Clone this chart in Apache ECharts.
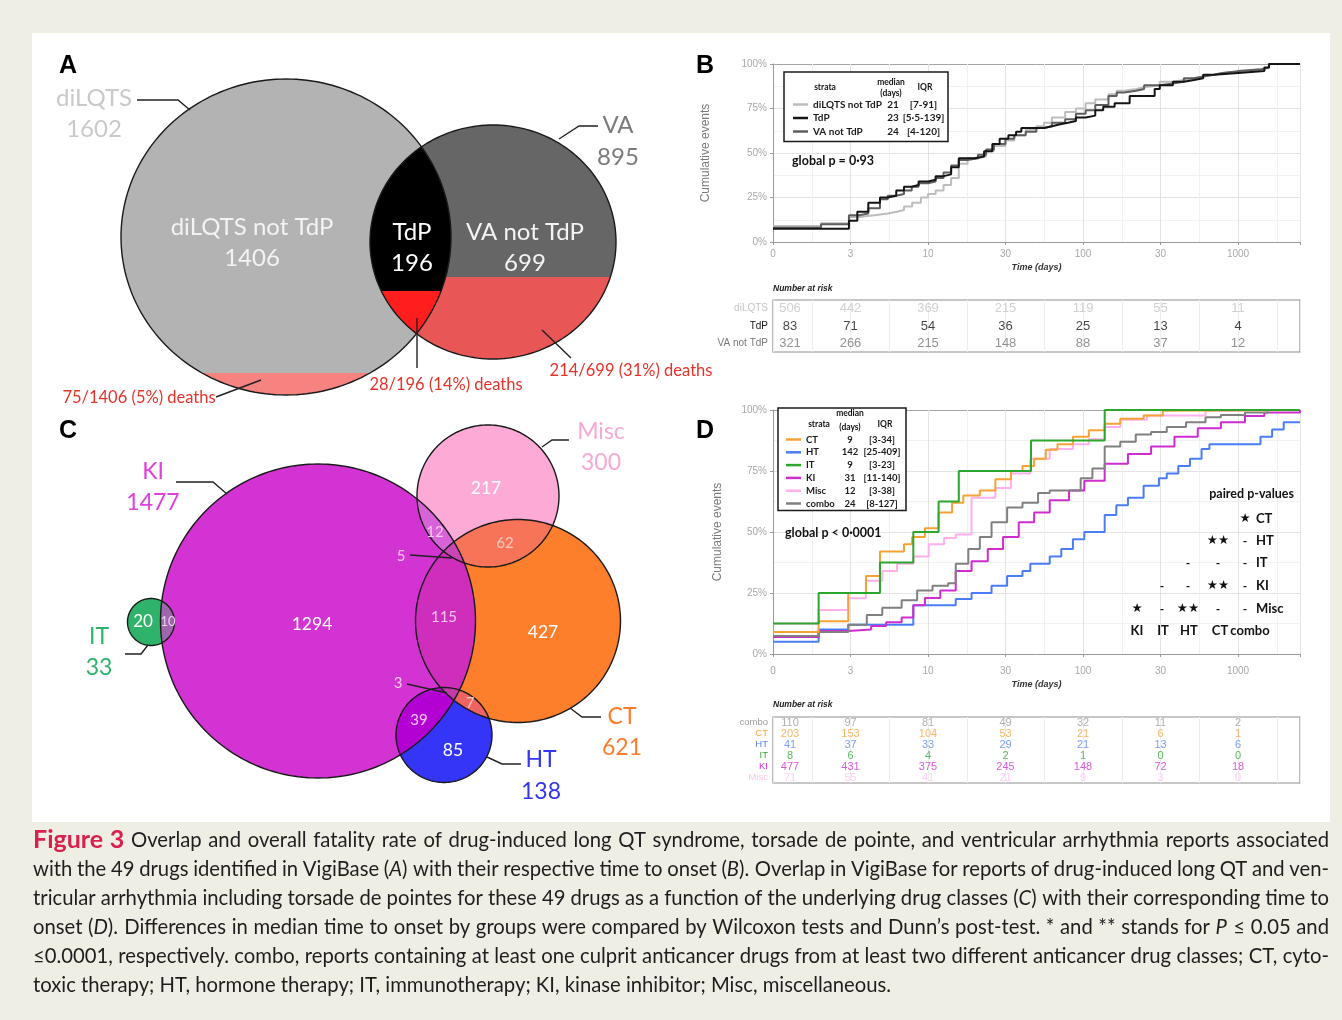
<!DOCTYPE html>
<html><head><meta charset="utf-8">
<script src="https://cdn.jsdelivr.net/npm/echarts@6.0.0/dist/echarts.min.js"></script>
<style>
html,body{margin:0;padding:0;background:#efeee5;}
#panel{position:absolute;left:32px;top:33px;width:1298px;height:789px;background:#fff;}
#chart{position:absolute;left:0;top:0;width:1342px;height:1020px;}
</style></head>
<body><div id="panel"></div><div id="chart"></div>
<script>
// ================= DATA =================
// Panel A (Venn)
const setNamesA = ['diLQTS', 'VA'];
const setTotalsA = [1602, 895];
const regionNamesA = ['diLQTS not TdP', 'TdP', 'VA not TdP'];
const regionCountsA = [1406, 196, 699];
const regionDeathsA = [75, 28, 214];

// Panel C (Venn)
const setNamesC = ['KI', 'Misc', 'IT', 'CT', 'HT'];
const setTotalsC = [1477, 300, 33, 621, 138];
const regionSetsC = [['KI'], ['Misc'], ['IT'], ['CT'], ['HT'], ['KI','IT'], ['KI','Misc'], ['Misc','CT'], ['KI','Misc','CT'], ['KI','CT'], ['KI','HT'], ['CT','HT'], ['KI','CT','HT']];
const regionCountsC = [1294, 217, 20, 427, 85, 10, 12, 62, 5, 115, 39, 7, 3];

// Time axis tick labels (as printed)
const timeTickLabels = ['0', '3', '10', '30', '100', '30', '1000'];

// Panel B
const strataB = ['diLQTS not TdP', 'TdP', 'VA not TdP'];
const medianB = [21, 23, 24];
const iqrB = ['[7-91]', '[5·5-139]', '[4-120]'];
const kmB_diLQTS = [[1,9],[2.04,10.5],[3.09,14],[3.6,15],[4.5,16],[5.5,17],[6.3,18],[7,20],[7.9,22],[9,25],[10,27],[11.2,29],[12.6,32],[14.1,36],[15.8,44],[18,47],[21,48],[23.7,51],[26.6,54],[31.6,57],[36,60],[42.7,63],[50,65],[56,67],[63,70],[76.7,73],[90,75],[104,78],[120,80],[146,83],[165,85],[184,86],[220,87],[248,88],[313,90],[380,91],[447,92],[520,93],[596,94],[700,95],[794,96],[1100,97],[1413,98],[1585,100],[2512,100]];
const kmB_TdP = [[1,7.5],[3.09,12],[3.5,17],[4.12,22],[4.9,25],[5.5,26],[6.24,29],[7,31],[7.85,32],[8.7,34],[10,35],[11.2,37],[12.6,38],[14.1,42],[15.8,47],[20,48],[23,51],[26,55],[29,58],[33,60],[37,62],[40,64],[56,65],[63,66],[70,67],[80,68],[90,70],[104,71],[120,74],[135,76],[160,78],[200,82],[290,86],[313,88],[380,90],[447,91],[520,92],[596,94],[700,95],[1000,96],[1480,98],[1585,100],[2512,100]];
const kmB_VA = [[1,8],[2.04,10],[3.09,15],[3.6,16],[4.12,19],[4.9,24],[5.5,26],[6.24,27],[7,29],[7.85,31],[8.7,33],[10,34],[11.2,36],[12.6,39],[14.1,43],[15.8,46],[18,47],[21,49],[23.7,52],[26.6,55],[31.6,58],[36,60],[42.7,62],[50,64],[56,65],[63,67],[76.7,69],[90,72],[104,74],[120,77],[146,82],[165,84],[184,85],[220,86],[248,88],[313,89],[380,90],[447,92],[520,93],[596,94],[700,95],[794,96],[1000,97],[1413,98],[1585,100],[2512,100]];
const riskRowsB = ['diLQTS', 'TdP', 'VA not TdP'];
const riskB_diLQTS = [506, 442, 369, 215, 119, 55, 11];
const riskB_TdP = [83, 71, 54, 36, 25, 13, 4];
const riskB_VA = [321, 266, 215, 148, 88, 37, 12];

// Panel D
const strataD = ['CT', 'HT', 'IT', 'KI', 'Misc', 'combo'];
const medianD = [9, 142, 9, 31, 12, 24];
const iqrD = ['[3-34]', '[25-409]', '[3-23]', '[11-140]', '[3-38]', '[8-127]'];
const kmD_CT = [[1,9],[1.97,13.4],[3.06,25],[3.98,32],[4.9,42],[7,45],[7.9,48],[9.55,51.5],[11.7,58],[14.3,62],[16.9,65],[21.6,67],[27.2,71.6],[34.3,75],[40.7,77],[48.4,80],[57.5,83.7],[68.4,86],[86.1,89],[109,91.7],[138,94.4],[174,96.4],[246,97.7],[327,99.7],[347,100],[2512,100]];
const kmD_HT = [[1,5],[1.97,10],[3.06,12],[8.04,20],[15.1,22.5],[19.1,25],[25.7,28],[32.4,32],[40.7,34],[45.7,37],[61,40],[72.4,43],[86.1,47],[102,50],[138,57],[164,61],[195,64],[246,69],[309,72],[347,74],[412,77],[490,80],[582,84],[654,86],[1245,86],[1396,89],[1660,92],[1972,95],[2512,95]];
const kmD_IT = [[1,12.5],[1.97,25],[4.9,37.5],[8.04,50],[11.7,62.5],[15.8,75],[46.2,87.5],[138,100],[2512,100]];
const kmD_KI = [[1,7],[1.97,9.4],[3.06,10],[4.3,11.5],[5.37,13],[6.76,15],[8.04,20],[9.55,23],[12,26],[15.1,34],[19.1,38],[24.3,43],[30.5,48],[38.5,54],[48.4,58],[61,63],[81.3,67],[102,71],[138,78],[195,82],[275,85],[389,89],[550,92.5],[776,95],[1109,97.5],[1479,99],[2512,100]];
const kmD_Misc = [[1,12.5],[1.97,18],[3.06,22.8],[3.98,30],[5.07,34],[6.31,37],[8.04,40],[10.1,45],[12.7,47.5],[15.1,49],[19.1,64],[27.2,68],[34.3,74],[45.7,80],[61,84],[86.1,86],[109,88],[138,93],[174,96],[259,97.7],[617,99.7],[900,100],[2512,100]];
const kmD_combo = [[1,7.4],[1.97,9],[3.06,12],[4.03,16],[5.07,19],[6.76,22],[8.51,26],[10.7,28],[13.5,29],[15.1,37],[18.2,43],[21.6,48],[25.7,54],[32.4,60],[40.7,62],[51.3,66],[61,67],[96.6,72],[115,76],[138,85],[174,87],[219,90],[275,91],[347,93],[462,95],[617,97],[776,98],[1109,99],[1567,100],[2512,100]];
const riskRowsD = ['combo', 'CT', 'HT', 'IT', 'KI', 'Misc'];
const riskD_combo = [110, 97, 81, 49, 32, 11, 2];
const riskD_CT = [203, 153, 104, 53, 21, 6, 1];
const riskD_HT = [41, 37, 33, 29, 21, 13, 6];
const riskD_IT = [8, 6, 4, 2, 1, 0, 0];
const riskD_KI = [477, 431, 375, 245, 148, 72, 18];
const riskD_Misc = [71, 55, 41, 21, 9, 3, 0];

// paired p-values
const pairRows = ['CT', 'HT', 'IT', 'KI', 'Misc'];
const pairCols = ['KI', 'IT', 'HT', 'CT', 'combo'];
const pairSig = [
  ['', '', '', '', '★'],
  ['', '', '', '★★', '-'],
  ['', '', '-', '-', '-'],
  ['', '-', '-', '★★', '-'],
  ['★', '-', '★★', '-', '-']
];
const globalPB = 'global p = 0·93';
const globalPD = 'global p < 0·0001';

const captionLines = [
  '#Figure #3 Overlap and overall fatality rate of drug-induced long QT syndrome, torsade de pointe, and ventricular arrhythmia reports associated',
  'with the 49 drugs identified in VigiBase (_A_) with their respective time to onset (_B_). Overlap in VigiBase for reports of drug-induced long QT and ven-',
  'tricular arrhythmia including torsade de pointes for these 49 drugs as a function of the underlying drug classes (_C_) with their corresponding time to',
  'onset (_D_). Differences in median time to onset by groups were compared by Wilcoxon tests and Dunn’s post-test. * and ** stands for _P_ ≤ 0.05 and',
  '≤0.0001, respectively. combo, reports containing at least one culprit anticancer drugs from at least two different anticancer drug classes; CT, cyto-',
  'toxic therapy; HT, hormone therapy; IT, immunotherapy; KI, kinase inhibitor; Misc, miscellaneous.'
];

// ================= LAYOUT / STYLE =================
const geomA = { diLQTS: [286, 237, 165, 158], VA: [493, 242, 123, 117] };
const geomC = { KI: [318, 621, 157.5, 157], Misc: [488, 496, 71, 71], IT: [151, 622, 23.5, 23.5], CT: [518, 621, 102.5, 101.5], HT: [444, 735, 48, 47.5] };
const fillC = {
  'KI': '#d433d4', 'Misc': '#fdaad6', 'IT': '#2fb36a', 'CT': '#fd7f2b', 'HT': '#3535f8',
  'KI&IT': '#9e66ad', 'KI&Misc': '#d862d8', 'Misc&CT': '#f77459', 'KI&Misc&CT': '#cc45b4',
  'KI&CT': '#cf2dbb', 'KI&HT': '#b300d3', 'CT&HT': '#ef6360', 'KI&CT&HT': '#c23aa8'
};
const drawOrderC = ['CT', 'Misc', 'KI', 'HT', 'IT', 'Misc&CT', 'KI&Misc', 'KI&CT', 'KI&Misc&CT', 'KI&HT', 'CT&HT', 'KI&CT&HT', 'KI&IT'];

const vennLayers = [
  { g: geomA, sets: ['diLQTS'], fill: '#b3b3b3' },
  { g: geomA, sets: ['VA'], fill: '#666666' },
  { g: geomA, sets: ['diLQTS'], cut: 373, fill: '#f6837f' },
  { g: geomA, sets: ['VA'], cut: 277, fill: '#e95656' },
  { g: geomA, sets: ['diLQTS', 'VA'], fill: '#000000' },
  { g: geomA, sets: ['diLQTS', 'VA'], cut: 291, fill: '#ff1e1e' },
  { g: geomA, sets: ['diLQTS'], stroke: '#1a1a1a' },
  { g: geomA, sets: ['VA'], stroke: '#1a1a1a' }
];
drawOrderC.forEach(k => vennLayers.push({ g: geomC, sets: k.split('&'), fill: fillC[k] }));
setNamesC.forEach(k => vennLayers.push({ g: geomC, sets: [k], stroke: '#1a1a1a' }));

const cA = { light: '#c9c9c9', dark: '#7b7b7b', red: '#e5332a', white: '#f3f3f3' };
const deathText = i => regionDeathsA[i] + '/' + regionCountsA[i] + ' (' + Math.round(regionDeathsA[i] / regionCountsA[i] * 100) + '%) deaths';
const cntC = k => String(regionCountsC[regionSetsC.findIndex(s => s.join('&') === k)]);
const pinkTxt = '#f6c8ee';
const annots = [
  // Panel A
  { t: setNamesA[0], p: [94, 98], c: cA.light, s: 24 },
  { t: String(setTotalsA[0]), p: [94, 129], c: cA.light, s: 24 },
  { t: setNamesA[1], p: [618, 125], c: cA.dark, s: 24 },
  { t: String(setTotalsA[1]), p: [618, 157], c: cA.dark, s: 24 },
  { t: regionNamesA[0], p: [252, 227], c: cA.white, s: 24 },
  { t: String(regionCountsA[0]), p: [252, 258], c: cA.white, s: 24 },
  { t: regionNamesA[1], p: [412, 232], c: '#ffffff', s: 24 },
  { t: String(regionCountsA[1]), p: [412, 263], c: '#ffffff', s: 24 },
  { t: regionNamesA[2], p: [525, 232], c: cA.white, s: 24 },
  { t: String(regionCountsA[2]), p: [525, 263], c: cA.white, s: 24 },
  { t: deathText(0), p: [139, 398], c: cA.red, s: 16.5 },
  { t: deathText(1), p: [446, 385], c: cA.red, s: 16.5 },
  { t: deathText(2), p: [631, 371], c: cA.red, s: 16.5 },
  { line: [[137, 100], [178, 100], [190, 110]] },
  { line: [[559, 139], [579, 126], [598, 126]] },
  { line: [[216, 397], [261, 380]] },
  { line: [[417, 318], [417, 368]] },
  { line: [[542, 330], [571, 358]] },
  // Panel C
  { t: setNamesC[0], p: [153, 472], c: '#e03ee0', s: 23 },
  { t: String(setTotalsC[0]), p: [153, 503], c: '#e03ee0', s: 23 },
  { t: setNamesC[1], p: [601, 432], c: '#f8a8d2', s: 23 },
  { t: String(setTotalsC[1]), p: [601, 463], c: '#f8a8d2', s: 23 },
  { t: setNamesC[2], p: [99, 637], c: '#2fb36a', s: 23 },
  { t: String(setTotalsC[2]), p: [99, 668], c: '#2fb36a', s: 23 },
  { t: setNamesC[3], p: [622, 717], c: '#fb7d2b', s: 23 },
  { t: String(setTotalsC[3]), p: [622, 748], c: '#fb7d2b', s: 23 },
  { t: setNamesC[4], p: [541, 760], c: '#3535f0', s: 23 },
  { t: String(setTotalsC[4]), p: [541, 792], c: '#3535f0', s: 23 },
  { t: cntC('KI'), p: [312, 624], c: '#ffffff', s: 17.5 },
  { t: cntC('CT'), p: [543, 632], c: '#ffffff', s: 17.5 },
  { t: cntC('Misc'), p: [486, 488], c: '#ffffff', s: 17.5 },
  { t: cntC('HT'), p: [453, 750], c: '#ffffff', s: 17.5 },
  { t: cntC('IT'), p: [143, 622], c: '#ffffff', s: 17 },
  { t: cntC('KI&IT'), p: [168, 622], c: '#e8d0ee', s: 13 },
  { t: cntC('KI&Misc'), p: [435, 532], c: pinkTxt, s: 15 },
  { t: cntC('Misc&CT'), p: [505, 543], c: '#f8c8c0', s: 15 },
  { t: cntC('KI&Misc&CT'), p: [401, 556], c: pinkTxt, s: 15 },
  { t: cntC('KI&CT'), p: [444, 617], c: pinkTxt, s: 15 },
  { t: cntC('KI&CT&HT'), p: [398, 683], c: pinkTxt, s: 15 },
  { t: cntC('CT&HT'), p: [470, 703], c: '#f8c8c8', s: 15 },
  { t: cntC('KI&HT'), p: [419, 720], c: pinkTxt, s: 15 },
  { line: [[176, 482], [213, 482], [227, 494]] },
  { line: [[542, 447], [552, 440], [569, 440]] },
  { line: [[148, 645], [141, 654], [125, 654]] },
  { line: [[570, 708], [582, 717], [601, 717]] },
  { line: [[487, 757], [502, 764], [521, 764]] },
  { line: [[410, 555], [452, 558]] },
  { line: [[407, 684], [447, 693]] }
];

// ================= GEOMETRY HELPERS =================
function ellipsePoly(e, n) {
  n = n || 200; const pts = [];
  for (let i = 0; i < n; i++) { const t = 2 * Math.PI * i / n; pts.push([e[0] + e[2] * Math.cos(t), e[1] + e[3] * Math.sin(t)]); }
  return pts;
}
function polyArea(p) { let a = 0; for (let i = 0; i < p.length; i++) { const q = p[i], r = p[(i + 1) % p.length]; a += q[0] * r[1] - r[0] * q[1]; } return a / 2; }
function clipConvex(subject, clip) {
  const sg = Math.sign(polyArea(clip)); let out = subject;
  for (let i = 0; i < clip.length; i++) {
    const a = clip[i], b = clip[(i + 1) % clip.length]; const inp = out; out = [];
    if (!inp.length) break;
    const d2 = [b[0] - a[0], b[1] - a[1]];
    const ins = p => sg * (d2[0] * (p[1] - a[1]) - d2[1] * (p[0] - a[0])) >= 0;
    const inter = (p, q) => { const d1 = [q[0] - p[0], q[1] - p[1]]; const den = d1[0] * d2[1] - d1[1] * d2[0]; const t = ((a[0] - p[0]) * d2[1] - (a[1] - p[1]) * d2[0]) / den; return [p[0] + t * d1[0], p[1] + t * d1[1]]; };
    for (let j = 0; j < inp.length; j++) {
      const cur = inp[j], prev = inp[(j + inp.length - 1) % inp.length];
      const ci = ins(cur), pi = ins(prev);
      if (ci) { if (!pi) out.push(inter(prev, cur)); out.push(cur); } else if (pi) out.push(inter(prev, cur));
    }
  }
  return out;
}
function clipBelow(subject, h) {
  const out = []; const n = subject.length;
  for (let j = 0; j < n; j++) {
    const cur = subject[j], prev = subject[(j + n - 1) % n];
    const ci = cur[1] >= h, pi = prev[1] >= h;
    const inter = () => { const t = (h - prev[1]) / (cur[1] - prev[1]); return [prev[0] + t * (cur[0] - prev[0]), h]; };
    if (ci) { if (!pi) out.push(inter()); out.push(cur); } else if (pi) out.push(inter());
  }
  return out;
}

// ================= HELPERS FOR AXES =================
const LOGB = Math.sqrt(10);
const tMax = Math.pow(10, 3.4);
const FF = 'Liberation Sans';
function timeLabel(v) {
  const e = 2 * Math.log10(v), k = Math.round(e);
  return (Math.abs(e - k) < 1e-6 && timeTickLabels[k] !== undefined) ? timeTickLabels[k] : '';
}
function kmX(gi, margin, nameGap) {
  return {
    gridIndex: gi, type: 'log', logBase: LOGB, min: 1, max: tMax, position: 'bottom',
    axisLine: { show: true, onZero: false, lineStyle: { color: '#9a9a9a', width: 1 } },
    axisTick: { show: true, length: 3, lineStyle: { color: '#9a9a9a' } },
    axisLabel: { color: '#a8a8a8', fontSize: 10, fontFamily: FF, margin: margin, formatter: timeLabel },
    splitLine: { show: false },
    name: 'Time (days)', nameLocation: 'middle', nameGap: nameGap,
    nameTextStyle: { fontStyle: 'italic', fontWeight: 'bold', fontSize: 9, color: '#333', fontFamily: FF }
  };
}
function minorX(gi) {
  return { gridIndex: gi, type: 'value', min: 0, max: 6.8, interval: 0.5, position: 'bottom',
    axisLine: { show: false }, axisTick: { show: false }, axisLabel: { show: false },
    splitLine: { show: true, lineStyle: { color: ['#e3e3e3', '#f1f1f1'], width: 1 } } };
}
function tableX(gi) {
  return { gridIndex: gi, type: 'value', min: 0, max: 6.8, interval: 0.5,
    axisLine: { show: false }, axisTick: { show: false }, axisLabel: { show: false },
    splitLine: { show: true, lineStyle: { color: '#ededed' } } };
}
function kmY(gi, nameGap) {
  return {
    gridIndex: gi, type: 'value', min: 0, max: 100, interval: 25,
    axisLine: { show: true, lineStyle: { color: '#9a9a9a' } },
    axisTick: { show: true, length: 3, lineStyle: { color: '#9a9a9a' } },
    axisLabel: { formatter: '{value}%', color: '#a8a8a8', fontSize: 10, fontFamily: FF, margin: 6 },
    splitLine: { show: true, lineStyle: { color: ['#e3e3e3', '#e3e3e3', '#e3e3e3', '#e3e3e3', '#a5a5a5'], width: 1 } },
    minorTick: { show: false, splitNumber: 2 },
    minorSplitLine: { show: true, lineStyle: { color: '#f1f1f1' } },
    name: 'Cumulative events', nameLocation: 'middle', nameGap: nameGap, nameRotate: 90,
    nameTextStyle: { color: '#7a7a7a', fontSize: 12, fontFamily: FF }
  };
}
function tableY(gi, rows, colors, fs) {
  return { gridIndex: gi, type: 'category', data: rows, inverse: true,
    axisLine: { show: false }, axisTick: { show: false },
    axisLabel: { interval: 0, hideOverlap: false, fontSize: fs, fontFamily: FF, margin: 5, color: (v, i) => colors[rows.indexOf(v)] },
    splitLine: { show: false } };
}

// ================= SERIES =================
const colB = { 'diLQTS not TdP': '#bdbdbd', 'TdP': '#141414', 'VA not TdP': '#5f5f5f' };
const colD = { CT: '#f6a236', HT: '#4a7df5', IT: '#2ca62c', KI: '#cf2ccf', Misc: '#ffb0ea', combo: '#808080' };
const riskColB = ['#c4c4c4', '#141414', '#777777'];
const riskColD = ['#9c9c9c', '#f4a341', '#5b84f5', '#3aa63a', '#cf2fd0', '#fbc3ee'];

function kmLine(name, data, color, xi, yi, z) {
  return { type: 'line', name: name, data: data, xAxisIndex: xi, yAxisIndex: yi, step: 'end', showSymbol: false, symbol: 'none',
    color: color, lineStyle: { color: color, width: 2 }, itemStyle: { color: color }, z: z || 2, silent: true };
}
function riskSeries(row, vals, color, xi, yi, fs) {
  return { type: 'scatter', name: 'risk-' + row, xAxisIndex: xi, yAxisIndex: yi, symbolSize: 0.1, silent: true,
    itemStyle: { color: 'rgba(0,0,0,0)' },
    data: vals.map((v, k) => ({ value: [k, row, v], label: { offset: [k === 0 ? 17 : 0, 0] } })),
    label: { show: true, position: 'inside', formatter: p => String(p.value[2]), color: color, fontSize: fs, fontFamily: FF } };
}

const series = [
  { type: 'custom', name: 'venn-shapes', xAxisIndex: 0, yAxisIndex: 0, clip: false, silent: true,
    data: vennLayers.map((l, i) => [i, 0]),
    renderItem: function (params, api) {
      const L = vennLayers[params.dataIndex];
      let poly = ellipsePoly(L.g[L.sets[0]]);
      for (let i = 1; i < L.sets.length; i++) poly = clipConvex(poly, ellipsePoly(L.g[L.sets[i]]));
      if (L.cut != null) poly = clipBelow(poly, L.cut);
      const pts = poly.map(p => api.coord(p));
      return { type: 'polygon', shape: { points: pts },
        style: L.stroke ? { fill: 'none', stroke: L.stroke, lineWidth: 1.4 } : { fill: L.fill, stroke: null } };
    } },
  { type: 'custom', name: 'venn-labels', xAxisIndex: 0, yAxisIndex: 0, clip: false, silent: true, z: 3,
    data: annots.map((a, i) => [i, 0]),
    renderItem: function (params, api) {
      const a = annots[params.dataIndex];
      if (a.line) return { type: 'polyline', shape: { points: a.line.map(p => api.coord(p)) }, style: { stroke: '#222', lineWidth: 1.4, fill: null } };
      const c = api.coord(a.p);
      return { type: 'text', x: c[0], y: c[1], style: { text: a.t, fill: a.c, fontSize: a.s, fontFamily: 'Lato', align: 'center', verticalAlign: 'middle' } };
    } },
  kmLine('diLQTS not TdP', kmB_diLQTS, colB['diLQTS not TdP'], 1, 1, 2),
  kmLine('VA not TdP', kmB_VA, colB['VA not TdP'], 1, 1, 3),
  kmLine('TdP', kmB_TdP, colB['TdP'], 1, 1, 4),
  riskSeries(riskRowsB[0], riskB_diLQTS, riskColB[0], 3, 2, 13),
  riskSeries(riskRowsB[1], riskB_TdP, riskColB[1], 3, 2, 13),
  riskSeries(riskRowsB[2], riskB_VA, riskColB[2], 3, 2, 13),
  kmLine('HT', kmD_HT, colD.HT, 4, 3, 2),
  kmLine('KI', kmD_KI, colD.KI, 4, 3, 3),
  kmLine('combo', kmD_combo, colD.combo, 4, 3, 3),
  kmLine('Misc', kmD_Misc, colD.Misc, 4, 3, 4),
  kmLine('CT', kmD_CT, colD.CT, 4, 3, 5),
  kmLine('IT', kmD_IT, colD.IT, 4, 3, 6),
  riskSeries(riskRowsD[0], riskD_combo, riskColD[0], 6, 4, 11),
  riskSeries(riskRowsD[1], riskD_CT, riskColD[1], 6, 4, 11),
  riskSeries(riskRowsD[2], riskD_HT, riskColD[2], 6, 4, 11),
  riskSeries(riskRowsD[3], riskD_IT, riskColD[3], 6, 4, 11),
  riskSeries(riskRowsD[4], riskD_KI, riskColD[4], 6, 4, 11),
  riskSeries(riskRowsD[5], riskD_Misc, riskColD[5], 6, 4, 11)
];

// ================= LEGENDS =================
function legendRich(wn, wm, wq, fs) {
  const base = { fontSize: fs, fontWeight: 'bold', fontFamily: 'Lato', color: '#1a1a1a', lineHeight: 11 };
  return { n: Object.assign({ width: wn }, base), m: Object.assign({ width: wm, align: 'center' }, base), q: Object.assign({ width: wq, align: 'center' }, base) };
}
const legends = [
  { data: strataB, left: 784, top: 72, orient: 'vertical', padding: [27.5, 1, 5, 9], itemGap: 3.5, itemWidth: 15, itemHeight: 2.5, icon: 'rect',
    borderColor: '#1a1a1a', borderWidth: 1.5, backgroundColor: '#fff', selectedMode: false, borderRadius: 0,
    formatter: n => { const i = strataB.indexOf(n); return '{n|' + n + '}{m|' + medianB[i] + '}{q|' + iqrB[i] + '}'; },
    textStyle: { rich: legendRich(73, 14, 47, 10) } },
  { data: strataD, left: 778, top: 408, orient: 'vertical', padding: [26.5, 0, 2, 8], itemGap: 2.8, itemWidth: 15, itemHeight: 2.5, icon: 'rect',
    borderColor: '#1a1a1a', borderWidth: 1.5, backgroundColor: '#fff', selectedMode: false, borderRadius: 0,
    formatter: n => { const i = strataD.indexOf(n); return '{n|' + n + '}{m|' + medianD[i] + '}{q|' + iqrD[i] + '}'; },
    textStyle: { rich: legendRich(36, 16, 48, 9.5) } }
];

// ================= GRAPHIC TEXTS =================
const G = [];
function txt(t, x, y, o) {
  o = o || {};
  G.push({ type: 'text', x: x, y: y, z: 100, silent: true,
    style: { text: t, fill: o.c || '#111', fontSize: o.s || 12, fontWeight: o.w || 'normal', fontStyle: o.i ? 'italic' : 'normal',
      fontFamily: o.f || 'Lato', align: o.a || 'center', verticalAlign: 'middle', rich: o.rich } });
}
// panel letters
[['A', 68, 66], ['B', 705, 66], ['C', 68, 431], ['D', 705, 431]].forEach(p => txt(p[0], p[1], p[2], { s: 25, w: 'bold', f: FF, c: '#000' }));
// legend headers
txt('strata', 825, 87, { s: 8.5, w: 'bold' }); txt('median', 891, 82, { s: 8.5, w: 'bold' }); txt('(days)', 891, 93, { s: 8.5, w: 'bold' }); txt('IQR', 925, 87, { s: 8.5, w: 'bold' });
txt('median', 850, 413, { s: 8.5, w: 'bold' }); txt('strata', 819, 424, { s: 8.5, w: 'bold' }); txt('(days)', 850, 427, { s: 8.5, w: 'bold' }); txt('IQR', 885, 424, { s: 8.5, w: 'bold' });
// global p
txt(globalPB, 792, 161, { s: 12.5, w: 'bold', a: 'left' });
txt(globalPD, 785, 533, { s: 12.5, w: 'bold', a: 'left' });
// number at risk
txt('Number at risk', 773, 289, { s: 8.5, w: 'bold', i: true, a: 'left', f: FF, c: '#222' });
txt('Number at risk', 773, 705, { s: 8.5, w: 'bold', i: true, a: 'left', f: FF, c: '#222' });
// paired p-values
txt('paired p-values', 1294, 494, { s: 12.5, w: 'bold', a: 'right' });
const pairCellX = [1137, 1162, 1188, 1218, 1245];
const pairColLabelX = [1137, 1163, 1189, 1220, 1250];
const pairRowY = [519, 541, 563, 586, 609];
pairRows.forEach((r, i) => {
  txt(r, 1256, pairRowY[i], { s: 13, w: 'bold', a: 'left' });
  pairSig[i].forEach((s, j) => { if (s) txt(s, pairCellX[j], pairRowY[i], { s: s === '-' ? 12 : 12.5, w: 'bold', f: s === '-' ? 'Lato' : 'DejaVu Sans' }); });
});
pairCols.forEach((c, j) => txt(c, pairColLabelX[j], 631, { s: 13, w: 'bold' }));

// caption (justified)
const mctx = document.createElement('canvas').getContext('2d');
function meas(t, size, bold) { mctx.font = (bold ? 'bold ' : '') + size + 'px Lato'; return mctx.measureText(t).width; }
const capLeft = 33, capRight = 1329, capTop = 840, capStep = 29, redSize = 25;
let capSize = 20.5;
const plainW = w => w.replace(/_/g, '').replace(/^#/, '');
const wordW = (w, s) => w[0] === '#' ? meas(plainW(w), redSize, true) : meas(plainW(w), s, false);
const natW = captionLines.slice(0, -1).map(l => { const ws = l.split(' '); return ws.reduce((a, w) => a + wordW(w, capSize), 0) + (ws.length - 1) * meas(' ', capSize) * 0.9; });
const maxNat = Math.max.apply(null, natW);
if (maxNat > capRight - capLeft) capSize = capSize * (capRight - capLeft) / maxNat;
captionLines.forEach((line, li) => {
  const ws = line.split(' ');
  const widths = ws.map(w => wordW(w, capSize));
  const total = widths.reduce((a, b) => a + b, 0);
  const last = li === captionLines.length - 1;
  const gap = last ? meas(' ', capSize) : (capRight - capLeft - total) / (ws.length - 1);
  let x = capLeft; const y = capTop + li * capStep;
  ws.forEach((w, k) => {
    if (w[0] === '#') {
      txt(plainW(w), x, y, { s: redSize, w: 'bold', c: '#d9204f', a: 'left' });
    } else {
      const rt = w.replace(/_(.+?)_/g, '{i|$1}');
      txt(rt, x, y, { s: capSize, c: '#1e1e1e', a: 'left', rich: { i: { fontStyle: 'italic', fontSize: capSize, fontFamily: 'Lato', fill: '#1e1e1e' } } });
    }
    x += widths[k] + gap;
  });
});

// ================= CHART =================
const chart = echarts.init(document.getElementById('chart'), null, { width: 1342, height: 1020 });
chart.setOption({
  backgroundColor: 'transparent',
  animation: false,
  textStyle: { fontFamily: FF },
  grid: [
    { left: 0, top: 0, width: 1342, height: 1020, show: false, outerBoundsMode: 'none' },
    { left: 773, top: 64, width: 527, height: 178, outerBoundsMode: 'none' },
    { left: 773, top: 300, width: 527, height: 52, show: true, borderColor: '#8e8e8e', borderWidth: 1.2, backgroundColor: '#fff', outerBoundsMode: 'none' },
    { left: 773, top: 410, width: 527, height: 244, outerBoundsMode: 'none' },
    { left: 773, top: 717, width: 527, height: 66, show: true, borderColor: '#8e8e8e', borderWidth: 1.2, backgroundColor: '#fff', outerBoundsMode: 'none' }
  ],
  xAxis: [
    { gridIndex: 0, type: 'value', min: 0, max: 1342, show: false },
    kmX(1, 7, 21), minorX(1), tableX(2),
    kmX(3, 12, 26), minorX(3), tableX(4)
  ],
  yAxis: [
    { gridIndex: 0, type: 'value', min: 0, max: 1020, inverse: true, show: false },
    kmY(1, 61), tableY(2, riskRowsB, riskColB, 10),
    kmY(3, 49), tableY(4, riskRowsD, riskColD, 9.5)
  ],
  legend: legends,
  graphic: { elements: G },
  series: series
});
</script></body></html>
